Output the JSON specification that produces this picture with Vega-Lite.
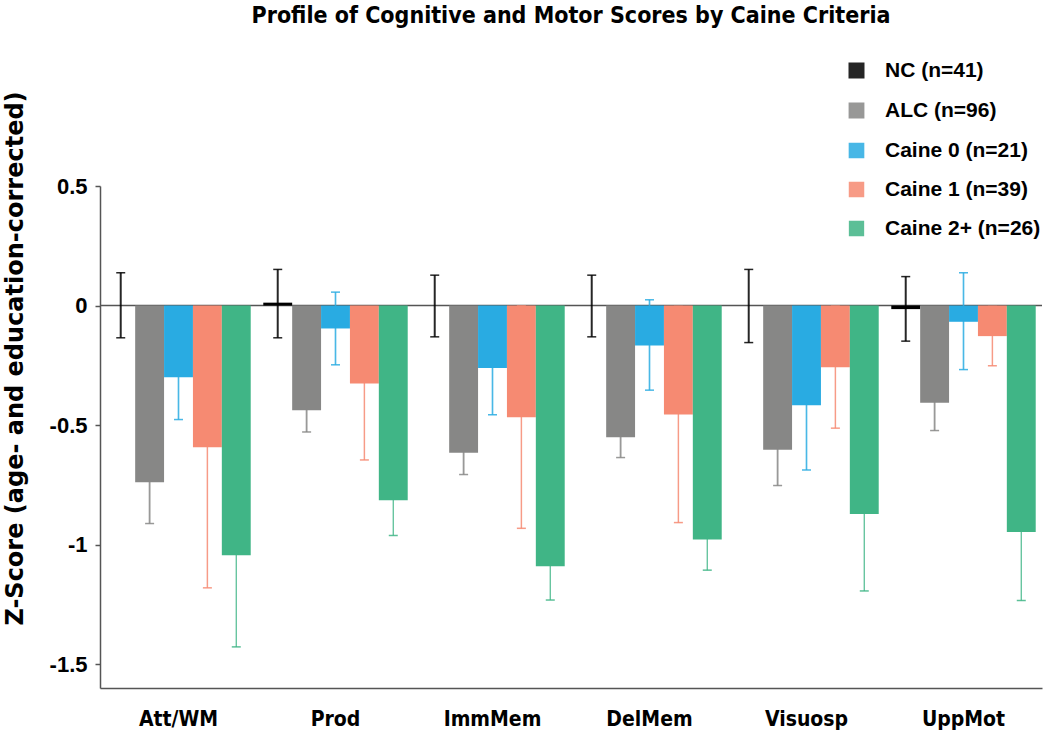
{
  "$schema": "https://vega.github.io/schema/vega-lite/v6.json",
  "width": 942,
  "height": 502,
  "autosize": {"type": "none"},
  "padding": {"left": 100, "top": 186, "right": 8, "bottom": 48},
  "background": "white",
  "config": {
    "view": {"stroke": null},
    "font": "Liberation Sans"
  },
  "title": {
    "text": "Profile of Cognitive and Motor Scores by Caine Criteria",
    "font": "'DejaVu Sans Condensed', 'Liberation Sans', sans-serif",
    "fontSize": 23,
    "fontWeight": "bold",
    "color": "#000000",
    "anchor": "middle",
    "frame": "group",
    "offset": 32
  },
  "data": {
    "values": [
      {"measure": "Att/WM", "group": "NC (n=41)", "mean": 0, "lo": -0.135, "hi": 0.137},
      {"measure": "Att/WM", "group": "ALC (n=96)", "mean": -0.739, "lo": -0.912, "hi": -0.566},
      {"measure": "Att/WM", "group": "Caine 0 (n=21)", "mean": -0.3, "lo": -0.477, "hi": -0.123},
      {"measure": "Att/WM", "group": "Caine 1 (n=39)", "mean": -0.593, "lo": -1.181, "hi": -0.005},
      {"measure": "Att/WM", "group": "Caine 2+ (n=26)", "mean": -1.045, "lo": -1.428, "hi": -0.662},
      {"measure": "Prod", "group": "NC (n=41)", "mean": 0.012, "lo": -0.135, "hi": 0.151},
      {"measure": "Prod", "group": "ALC (n=96)", "mean": -0.438, "lo": -0.529, "hi": -0.347},
      {"measure": "Prod", "group": "Caine 0 (n=21)", "mean": -0.096, "lo": -0.248, "hi": 0.056},
      {"measure": "Prod", "group": "Caine 1 (n=39)", "mean": -0.326, "lo": -0.646, "hi": -0.006},
      {"measure": "Prod", "group": "Caine 2+ (n=26)", "mean": -0.815, "lo": -0.962, "hi": -0.668},
      {"measure": "ImmMem", "group": "NC (n=41)", "mean": 0, "lo": -0.131, "hi": 0.127},
      {"measure": "ImmMem", "group": "ALC (n=96)", "mean": -0.616, "lo": -0.707, "hi": -0.525},
      {"measure": "ImmMem", "group": "Caine 0 (n=21)", "mean": -0.261, "lo": -0.457, "hi": -0.065},
      {"measure": "ImmMem", "group": "Caine 1 (n=39)", "mean": -0.467, "lo": -0.932, "hi": -0.002},
      {"measure": "ImmMem", "group": "Caine 2+ (n=26)", "mean": -1.091, "lo": -1.232, "hi": -0.95},
      {"measure": "DelMem", "group": "NC (n=41)", "mean": 0, "lo": -0.131, "hi": 0.127},
      {"measure": "DelMem", "group": "ALC (n=96)", "mean": -0.551, "lo": -0.636, "hi": -0.466},
      {"measure": "DelMem", "group": "Caine 0 (n=21)", "mean": -0.167, "lo": -0.354, "hi": 0.024},
      {"measure": "DelMem", "group": "Caine 1 (n=39)", "mean": -0.456, "lo": -0.908, "hi": -0.004},
      {"measure": "DelMem", "group": "Caine 2+ (n=26)", "mean": -0.979, "lo": -1.107, "hi": -0.851},
      {"measure": "Visuosp", "group": "NC (n=41)", "mean": 0, "lo": -0.155, "hi": 0.151},
      {"measure": "Visuosp", "group": "ALC (n=96)", "mean": -0.603, "lo": -0.753, "hi": -0.453},
      {"measure": "Visuosp", "group": "Caine 0 (n=21)", "mean": -0.417, "lo": -0.688, "hi": -0.146},
      {"measure": "Visuosp", "group": "Caine 1 (n=39)", "mean": -0.258, "lo": -0.513, "hi": -0.003},
      {"measure": "Visuosp", "group": "Caine 2+ (n=26)", "mean": -0.872, "lo": -1.194, "hi": -0.55},
      {"measure": "UppMot", "group": "NC (n=41)", "mean": -0.015, "lo": -0.149, "hi": 0.121},
      {"measure": "UppMot", "group": "ALC (n=96)", "mean": -0.407, "lo": -0.523, "hi": -0.291},
      {"measure": "UppMot", "group": "Caine 0 (n=21)", "mean": -0.068, "lo": -0.268, "hi": 0.137},
      {"measure": "UppMot", "group": "Caine 1 (n=39)", "mean": -0.128, "lo": -0.252, "hi": -0.004},
      {"measure": "UppMot", "group": "Caine 2+ (n=26)", "mean": -0.947, "lo": -1.234, "hi": -0.66}
    ]
  },
  "encoding": {
    "x": {
      "field": "measure",
      "type": "nominal",
      "sort": ["Att/WM", "Prod", "ImmMem", "DelMem", "Visuosp", "UppMot"],
      "scale": {"paddingInner": 0.08, "paddingOuter": 0.04},
      "axis": {
        "title": null,
        "labelAngle": 0,
        "ticks": false,
        "domainColor": "#555555",
        "domainWidth": 1.5,
        "labelFont": "'DejaVu Sans Condensed', 'Liberation Sans', sans-serif",
        "labelFontSize": 21,
        "labelFontWeight": "bold",
        "labelColor": "#000000",
        "labelPadding": 20
      }
    },
    "xOffset": {
      "field": "group",
      "type": "nominal",
      "sort": ["NC (n=41)", "ALC (n=96)", "Caine 0 (n=21)", "Caine 1 (n=39)", "Caine 2+ (n=26)"],
      "scale": {"paddingInner": 0, "paddingOuter": 0}
    }
  },
  "layer": [
    {
      "data": {"values": [{}]},
      "mark": {"type": "rule", "color": "#555555", "strokeWidth": 1.5},
      "encoding": {"y": {"datum": 0}, "x": null, "xOffset": null}
    },
    {
      "mark": {"type": "rule", "opacity": 0.85},
      "encoding": {
        "y": {"field": "lo", "type": "quantitative"},
        "y2": {"field": "hi"},
        "color": {"field": "group", "type": "nominal"},
        "strokeWidth": {
          "field": "group",
          "type": "nominal",
          "scale": {"domain": ["NC (n=41)", "ALC (n=96)", "Caine 0 (n=21)", "Caine 1 (n=39)", "Caine 2+ (n=26)"], "range": [2, 1.3, 1.3, 1.3, 1.3]},
          "legend": null
        }
      }
    },
    {
      "mark": {"type": "tick", "size": 9, "thickness": 1.5, "opacity": 0.85},
      "encoding": {
        "y": {"field": "lo", "type": "quantitative"},
        "color": {"field": "group", "type": "nominal"}
      }
    },
    {
      "mark": {"type": "tick", "size": 9, "thickness": 1.5, "opacity": 0.85},
      "encoding": {
        "y": {"field": "hi", "type": "quantitative"},
        "color": {"field": "group", "type": "nominal"}
      }
    },
    {
      "mark": {"type": "bar", "width": {"band": 1}},
      "encoding": {
        "y": {
          "field": "mean",
          "type": "quantitative",
          "scale": {"domain": [-1.6, 0.5], "nice": false, "zero": true},
          "axis": {
            "title": "Z-Score (age- and education-corrected)",
            "values": [-1.5, -1, -0.5, 0, 0.5],
            "labelExpr": "'' + datum.value",
            "grid": false,
            "domainColor": "#555555",
            "domainWidth": 1.5,
            "tickColor": "#555555",
            "tickSize": 5,
            "tickWidth": 1.5,
            "labelPadding": 8,
            "labelFont": "Liberation Sans",
            "labelFontSize": 22,
            "labelFontWeight": "bold",
            "labelColor": "#000000",
            "titleFont": "DejaVu Sans",
            "titleFontSize": 24,
            "titleFontWeight": "bold",
            "titleColor": "#000000",
            "titleAngle": 270,
            "titleAlign": "center",
            "titleBaseline": "middle",
            "titleX": -85,
            "titleY": 172
          }
        },
        "color": {
          "field": "group",
          "type": "nominal",
          "scale": {
            "domain": ["NC (n=41)", "ALC (n=96)", "Caine 0 (n=21)", "Caine 1 (n=39)", "Caine 2+ (n=26)"],
            "range": ["#000000", "#878786", "#29abe2", "#f68a72", "#40b586"]
          },
          "legend": {
            "title": null,
            "orient": "none",
            "legendX": 746,
            "legendY": -126,
            "symbolType": "square",
            "symbolSize": 196,
            "symbolStrokeWidth": 0,
            "symbolOpacity": 1,
            "labelFont": "Liberation Sans",
            "labelFontSize": 21,
            "labelFontWeight": "bold",
            "labelColor": "#000000",
            "labelOffset": 18,
            "rowPadding": 17,
            "padding": 0
          }
        }
      }
    }
  ]
}
